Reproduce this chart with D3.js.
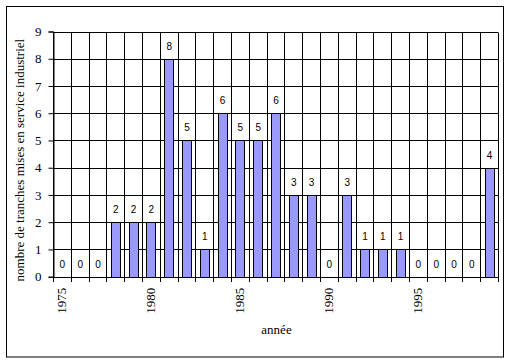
<!DOCTYPE html>
<html lang="fr">
<head>
<meta charset="UTF-8">
<title>Tranches mises en service industriel</title>
<script src="https://d3js.org/d3.v7.min.js"></script>
<style>
    body { margin: 0; background: #fff; }
    svg { display: block; }
</style>
</head>
<body>
<svg id="chart"></svg>
<script>
    // données
    const years = d3.range(1975, 2000);
    const values = [0, 0, 0, 2, 2, 2, 8, 5, 1, 6, 5, 5, 6, 3, 3, 0, 3, 1, 1, 1, 0, 0, 0, 0, 4];
    const yTicks = [0, 1, 2, 3, 4, 5, 6, 7, 8, 9];
    const xLabels = [1975, 1980, 1985, 1990, 1995];

    const SERIF = "'Liberation Serif', 'DejaVu Serif', 'Times New Roman', serif";
    const SANS = "'Liberation Sans', Arial, sans-serif";

    const W = 511, H = 364;
    const plot = { left: 53, right: 498, top: 31.5, bottom: 276.7 };

    const svg = d3.select("#chart").attr("width", W).attr("height", H);

    // cadre extérieur
    svg.append("rect")
        .attr("x", 6.5).attr("y", 6.5)
        .attr("width", 497).attr("height", 350.5)
        .attr("fill", "none").attr("stroke", "#000").attr("stroke-width", 1);

    const x = d3.scaleBand()
        .domain(years)
        .range([plot.left, plot.right])
        .paddingInner(0).paddingOuter(0);

    const y = d3.scaleLinear()
        .domain([0, 9])
        .range([plot.bottom, plot.top]);

    const bw = x.bandwidth();
    const boundaries = years.map(d => x(d)).concat([plot.right]);

    // grille horizontale
    svg.append("g").selectAll("line")
        .data(yTicks.slice(1))
        .enter().append("line")
        .attr("x1", plot.left).attr("x2", plot.right)
        .attr("y1", d => Math.round(y(d)) + 0.5).attr("y2", d => Math.round(y(d)) + 0.5)
        .attr("stroke", "#000");

    // grille verticale (limites des catégories)
    svg.append("g").selectAll("line")
        .data(boundaries)
        .enter().append("line")
        .attr("x1", d => Math.round(d) + 0.5).attr("x2", d => Math.round(d) + 0.5)
        .attr("y1", Math.round(plot.top) + 0.5).attr("y2", Math.round(plot.bottom) + 5)
        .attr("stroke", "#000");

    // barres
    const barW = bw * 0.5;
    svg.append("g").selectAll("rect")
        .data(values.map((v, i) => ({ year: years[i], v })))
        .enter().append("rect")
        .attr("x", d => Math.round(x(d.year) + (bw - barW) / 2) + 0.5)
        .attr("y", d => Math.round(y(d.v)) + 0.5)
        .attr("width", Math.round(barW))
        .attr("height", d => Math.round(y(0)) - Math.round(y(d.v)))
        .attr("fill", "#9999ff")
        .attr("stroke", "#000")
        .attr("stroke-width", 1)
        .style("display", d => d.v === 0 ? "none" : null);

    // axe Y
    const yAxis = svg.append("g")
        .attr("transform", `translate(${Math.round(plot.left) + 0.5},0)`)
        .call(d3.axisLeft(y).tickValues(yTicks).tickSize(5).tickPadding(7).tickFormat(d3.format("d")));
    yAxis.select(".domain").attr("stroke", "#000");
    yAxis.selectAll(".tick line").attr("stroke", "#000");
    yAxis.selectAll("text")
        .style("font-family", SERIF).style("font-size", "13px").attr("fill", "#000");

    // axe X
    svg.append("line")
        .attr("x1", plot.left).attr("x2", plot.right)
        .attr("y1", Math.round(plot.bottom) + 0.5).attr("y2", Math.round(plot.bottom) + 0.5)
        .attr("stroke", "#000");

    svg.append("g").selectAll("text")
        .data(xLabels)
        .enter().append("text")
        .style("font-family", SERIF).style("font-size", "13px")
        .attr("text-anchor", "end")
        .attr("transform", d => `translate(${x(d) + bw / 2 + 4.5},${plot.bottom + 11}) rotate(-90)`)
        .text(d => d);

    // étiquettes de valeurs
    svg.append("g").selectAll("text")
        .data(values.map((v, i) => ({ year: years[i], v })))
        .enter().append("text")
        .style("font-family", SANS).style("font-size", "10px")
        .attr("text-anchor", "middle")
        .attr("x", d => x(d.year) + bw / 2 + 0.5)
        .attr("y", d => y(d.v) - 9)
        .text(d => d.v);

    // titres des axes
    svg.append("text")
        .style("font-family", SERIF).style("font-size", "13px")
        .attr("text-anchor", "middle")
        .attr("transform", `translate(24,${(plot.top + plot.bottom) / 2 + 6}) rotate(-90)`)
        .text("nombre de tranches mises en service industriel");

    svg.append("text")
        .style("font-family", SERIF).style("font-size", "13px")
        .attr("text-anchor", "middle")
        .attr("x", (plot.left + plot.right) / 2 + 1)
        .attr("y", 334)
        .text("année");
</script>
</body>
</html>
